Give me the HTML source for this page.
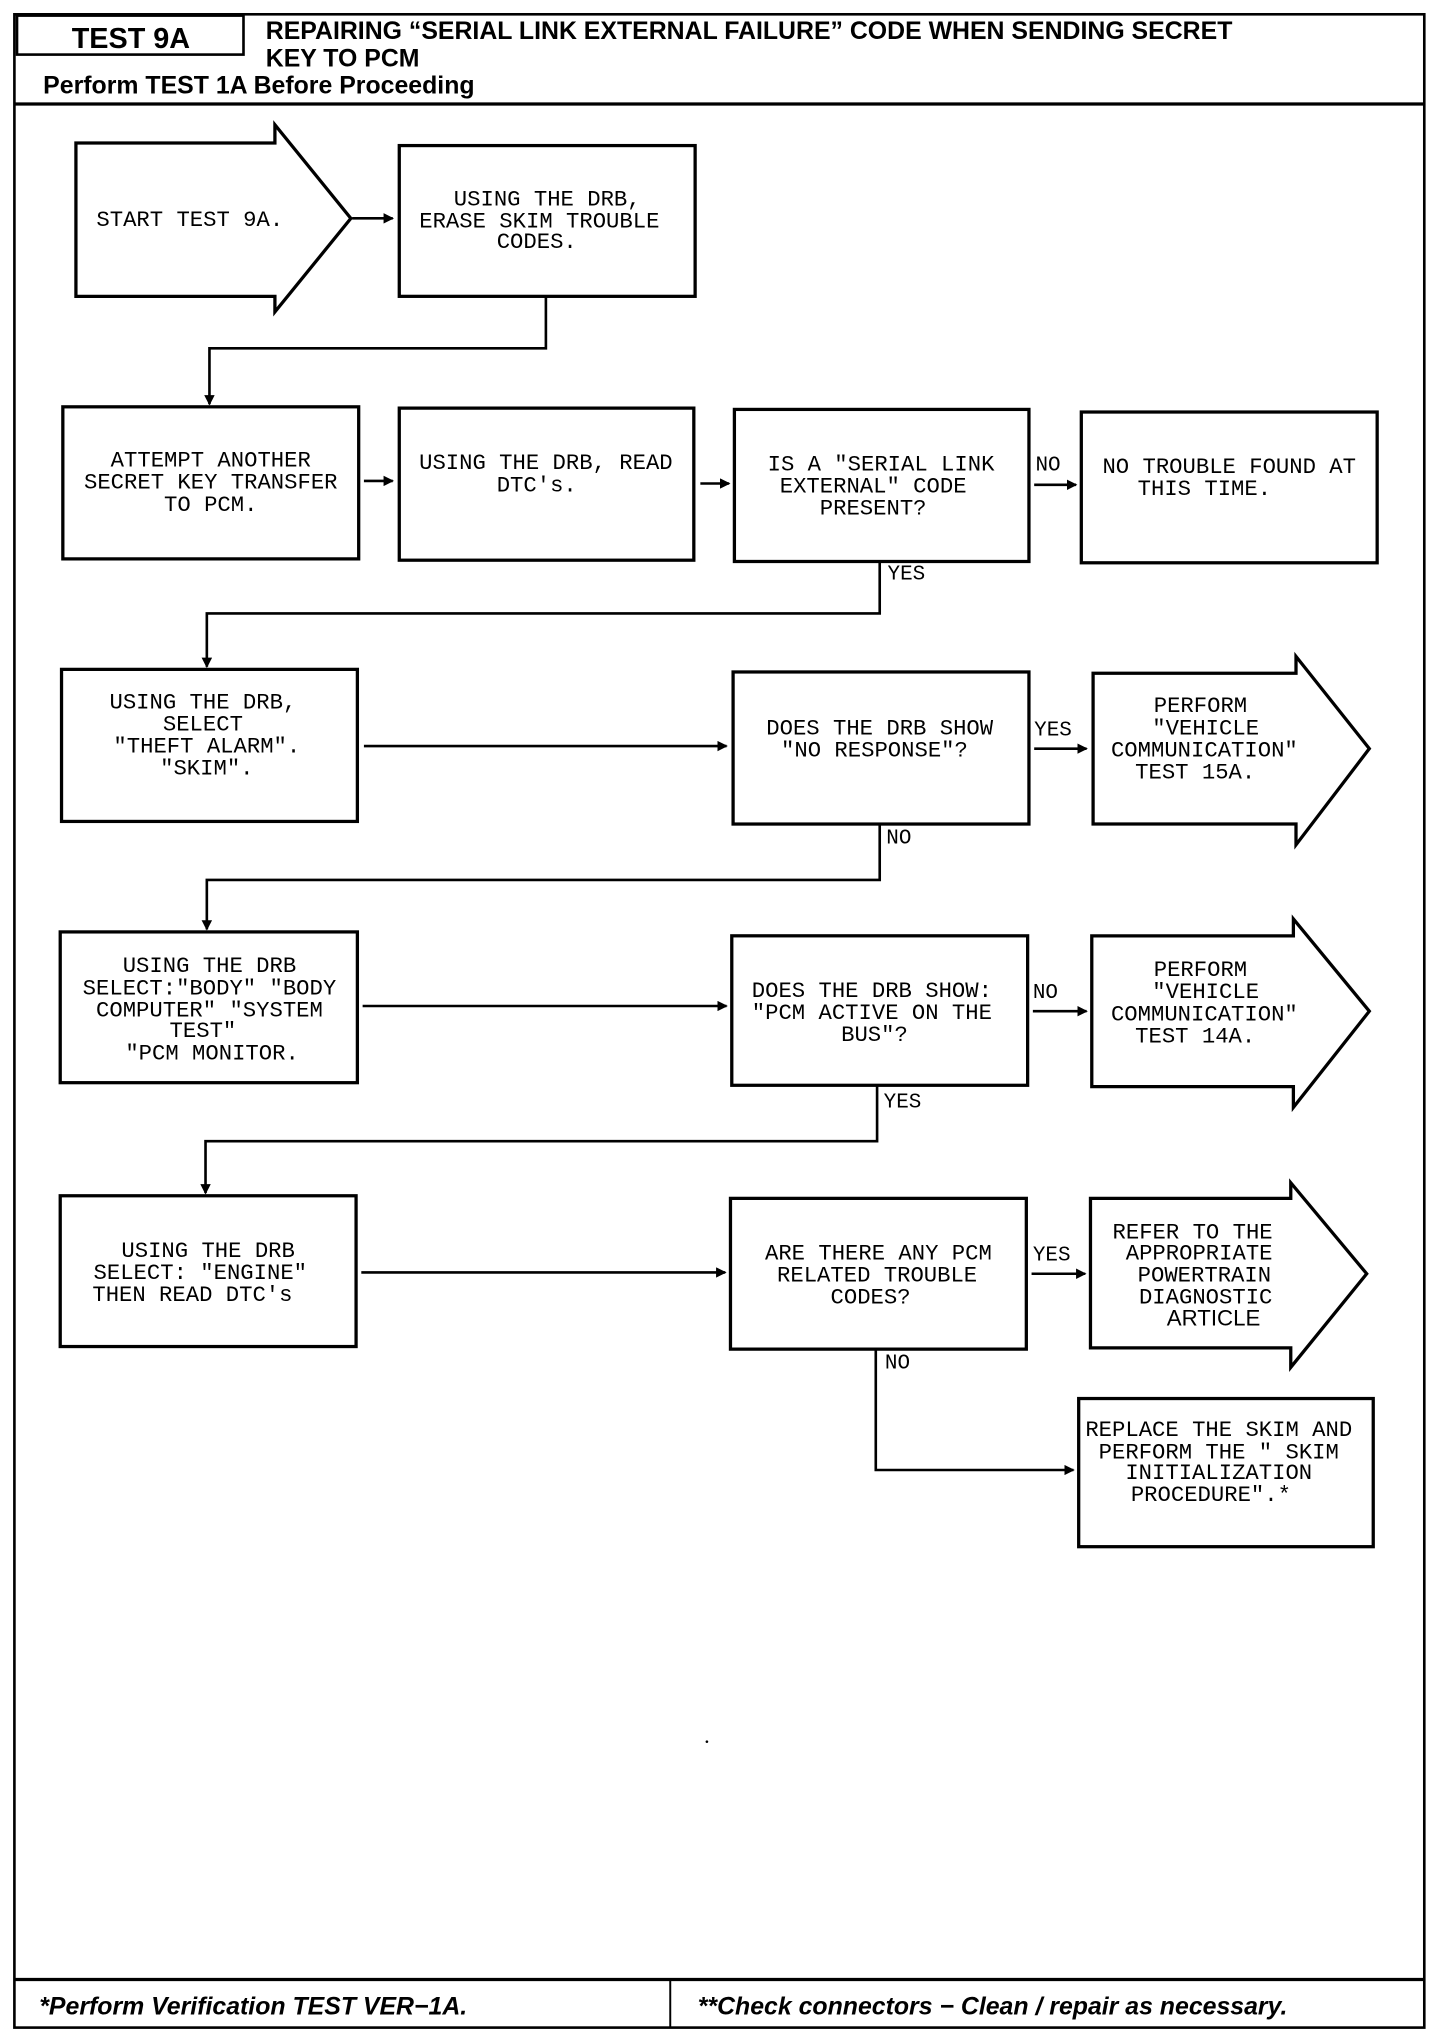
<!DOCTYPE html>
<html><head><meta charset="utf-8"><style>
html,body{margin:0;padding:0;background:#fff;}
svg{display:block;}
.t{font-family:"Liberation Mono",monospace;font-size:17px;fill:#000;text-anchor:middle;}
.l{font-family:"Liberation Mono",monospace;font-size:16px;fill:#000;}
.h{font-family:"Liberation Sans",sans-serif;font-weight:bold;fill:#000;}
</style></head><body>
<svg width="1440" height="2038" viewBox="0 0 1100 1568" preserveAspectRatio="none" xmlns="http://www.w3.org/2000/svg">
<defs><marker id="a" markerWidth="8" markerHeight="8" refX="7" refY="4" orient="auto" markerUnits="userSpaceOnUse"><path d="M0,0 L8,4 L0,8 z" fill="#000"/></marker></defs>
<g fill="none" stroke="#000">
<rect x="11" y="11" width="1077" height="1549" stroke-width="2"/>
<rect x="13" y="12" width="173" height="30" stroke-width="2"/>
<line x1="11" y1="80" x2="1088" y2="80" stroke-width="2.5"/>
<line x1="11" y1="1523" x2="1088" y2="1523" stroke-width="2.5"/>
<line x1="512" y1="1523" x2="512" y2="1560" stroke-width="1.5"/>
<g stroke-width="2.5">
<polygon points="58,110 210,110 210,96 268,168 210,240 210,228 58,228"/>
<rect x="305" y="112" width="226" height="116"/>
<rect x="48" y="313" width="226" height="117"/>
<rect x="305" y="314" width="225" height="117"/>
<rect x="561" y="315" width="225" height="117"/>
<rect x="826" y="317" width="226" height="116"/>
<rect x="47" y="515" width="226" height="117"/>
<rect x="560" y="517" width="226" height="117"/>
<polygon points="835,518 990,518 990,505 1046,576 990,650 990,634 835,634"/>
<rect x="46" y="717" width="227" height="116"/>
<rect x="559" y="720" width="226" height="115"/>
<polygon points="834,720 988,720 988,707 1046,778 988,852 988,836 834,836"/>
<rect x="46" y="920" width="226" height="116"/>
<rect x="558" y="922" width="226" height="116"/>
<polygon points="833,922 986,922 986,910 1044,980 986,1052 986,1037 833,1037"/>
<rect x="824" y="1076" width="225" height="114"/>
</g>
<g stroke-width="2">
<line x1="269" y1="168" x2="300" y2="168" marker-end="url(#a)"/>
<polyline points="417,228 417,268 160,268 160,311" marker-end="url(#a)"/>
<line x1="278" y1="370" x2="300" y2="370" marker-end="url(#a)"/>
<line x1="535" y1="372" x2="557" y2="372" marker-end="url(#a)"/>
<line x1="790" y1="373" x2="822" y2="373" marker-end="url(#a)"/>
<polyline points="672,432 672,472 158,472 158,513" marker-end="url(#a)"/>
<line x1="278" y1="574" x2="555" y2="574" marker-end="url(#a)"/>
<line x1="790" y1="576" x2="830" y2="576" marker-end="url(#a)"/>
<polyline points="672,634 672,677 158,677 158,715" marker-end="url(#a)"/>
<line x1="277" y1="774" x2="555" y2="774" marker-end="url(#a)"/>
<line x1="789" y1="778" x2="830" y2="778" marker-end="url(#a)"/>
<polyline points="670,835 670,878 157,878 157,918" marker-end="url(#a)"/>
<line x1="276" y1="979" x2="554" y2="979" marker-end="url(#a)"/>
<line x1="788" y1="980" x2="829" y2="980" marker-end="url(#a)"/>
<polyline points="669,1038 669,1131 820,1131" marker-end="url(#a)"/>
</g>
</g>
<text class="h" x="100" y="37" font-size="22" text-anchor="middle">TEST 9A</text>
<text class="h" x="203" y="30" font-size="19">REPAIRING “SERIAL LINK EXTERNAL FAILURE” CODE WHEN SENDING SECRET</text>
<text class="h" x="203" y="51" font-size="19">KEY TO PCM</text>
<text class="h" x="33" y="72" font-size="19">Perform TEST 1A Before Proceeding</text>
<text class="h" x="30" y="1550" font-size="19" font-style="italic">*Perform Verification TEST VER−1A.</text>
<text class="h" x="533" y="1550" font-size="19" font-style="italic">**Check connectors − Clean / repair as necessary.</text>

<text class="t" x="145" y="174">START TEST 9A.</text>
<text class="t" x="418" y="158">USING THE DRB,</text>
<text class="t" x="412" y="175">ERASE SKIM TROUBLE</text>
<text class="t" x="410" y="191">CODES.</text>

<text class="t" x="161" y="359">ATTEMPT ANOTHER</text>
<text class="t" x="161" y="376">SECRET KEY TRANSFER</text>
<text class="t" x="161" y="393">TO PCM.</text>
<text class="t" x="417" y="361">USING THE DRB, READ</text>
<text class="t" x="410" y="378">DTC's.</text>
<text class="t" x="673" y="362">IS A "SERIAL LINK</text>
<text class="t" x="667" y="379">EXTERNAL" CODE</text>
<text class="t" x="667" y="396">PRESENT?</text>
<text class="t" x="939" y="364">NO TROUBLE FOUND AT</text>
<text class="t" x="920" y="381">THIS TIME.</text>
<text class="l" x="791" y="362">NO</text>
<text class="l" x="678" y="446">YES</text>

<text class="t" x="155" y="545">USING THE DRB,</text>
<text class="t" x="155" y="562">SELECT</text>
<text class="t" x="158" y="579">"THEFT ALARM".</text>
<text class="t" x="158" y="596">"SKIM".</text>
<text class="t" x="672" y="565">DOES THE DRB SHOW</text>
<text class="t" x="668" y="582">"NO RESPONSE"?</text>
<text class="l" x="790" y="566">YES</text>
<text class="t" x="917" y="548">PERFORM</text>
<text class="t" x="921" y="565">"VEHICLE</text>
<text class="t" x="920" y="582">COMMUNICATION"</text>
<text class="t" x="913" y="599">TEST 15A.</text>
<text class="l" x="677" y="649">NO</text>

<text class="t" x="160" y="748">USING THE DRB</text>
<text class="t" x="160" y="765">SELECT:"BODY" "BODY</text>
<text class="t" x="160" y="782">COMPUTER" "SYSTEM</text>
<text class="t" x="155" y="798">TEST"</text>
<text class="t" x="162" y="815">"PCM MONITOR.</text>
<text class="t" x="666" y="767">DOES THE DRB SHOW:</text>
<text class="t" x="666" y="784">"PCM ACTIVE ON THE</text>
<text class="t" x="668" y="801">BUS"?</text>
<text class="l" x="789" y="768">NO</text>
<text class="t" x="917" y="751">PERFORM</text>
<text class="t" x="921" y="768">"VEHICLE</text>
<text class="t" x="920" y="785">COMMUNICATION"</text>
<text class="t" x="913" y="802">TEST 14A.</text>
<text class="l" x="675" y="852">YES</text>

<text class="t" x="159" y="967">USING THE DRB</text>
<text class="t" x="153" y="984">SELECT: "ENGINE"</text>
<text class="t" x="147" y="1001">THEN READ DTC's</text>
<text class="t" x="671" y="969">ARE THERE ANY PCM</text>
<text class="t" x="670" y="986">RELATED TROUBLE</text>
<text class="t" x="665" y="1003">CODES?</text>
<text class="l" x="789" y="970">YES</text>
<text class="t" x="911" y="953">REFER TO THE</text>
<text class="t" x="916" y="969">APPROPRIATE</text>
<text class="t" x="920" y="986">POWERTRAIN</text>
<text class="t" x="921" y="1003">DIAGNOSTIC</text>
<text class="t" x="927" y="1020" style="font-family:'Liberation Sans',sans-serif">ARTICLE</text>
<text class="l" x="676" y="1053">NO</text>

<text class="t" x="931" y="1105">REPLACE THE SKIM AND</text>
<text class="t" x="931" y="1122">PERFORM THE " SKIM</text>
<text class="t" x="931" y="1138">INITIALIZATION</text>
<text class="t" x="925" y="1155">PROCEDURE".*</text>
<circle cx="540" cy="1340" r="1" fill="#000"/>
</svg>
</body></html>
